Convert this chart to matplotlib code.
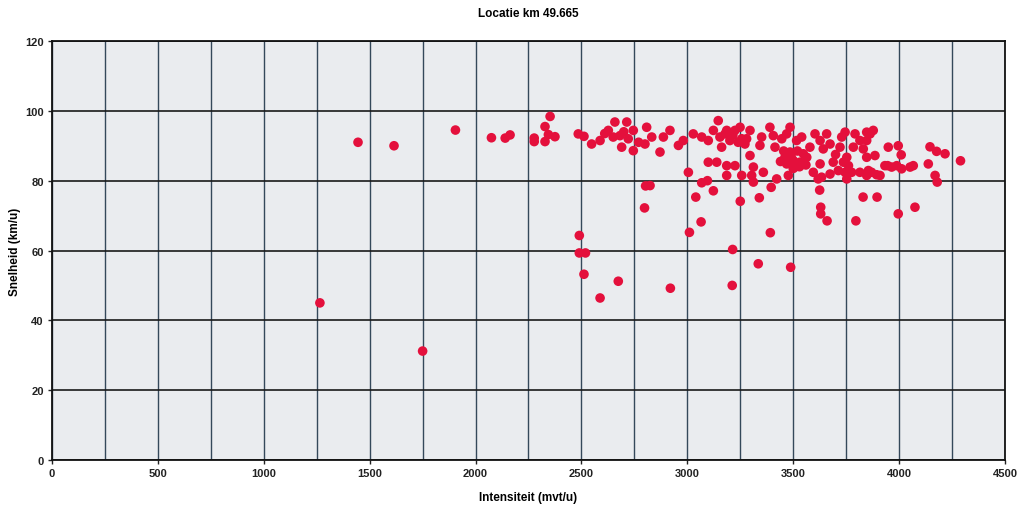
import matplotlib
matplotlib.use("Agg")
import matplotlib.pyplot as plt
from matplotlib.ticker import MultipleLocator

plt.rcParams['font.family'] = ['Liberation Sans', 'DejaVu Sans']

title = "Locatie km 49.665"
xlabel = "Intensiteit (mvt/u)"
ylabel = "Snelheid (km/u)"

intensiteit = [
    1265, 1445, 1615, 1750, 1905, 2075, 2140, 2163, 2277, 2277,
    2352, 2328, 2344, 2375, 2328, 2485, 2512, 2548, 2588, 2627,
    2658, 2650, 2682, 2690, 2714, 2721, 2745, 2745, 2808, 2800,
    2832, 2871, 2887, 2918, 2958, 2981, 3028, 3068, 3099, 3146,
    3123, 3154, 3162, 3186, 3099, 3139, 3186, 3005, 3068, 3095,
    3186, 2803, 2824, 3123, 2798, 3040, 3065, 3010, 2490, 2490,
    2519, 2512, 2674, 2588, 2920, 3214, 3212, 3250, 3335, 3392,
    3340, 3396, 3488, 3625, 3630, 3630, 3660, 3796, 3830, 3896,
    3996, 4075, 4170, 4180, 4290, 4138, 4146, 4177, 4217, 4052,
    3949, 3996, 4010, 3946, 3989, 3894, 3855, 3815, 3776, 3753,
    3689, 3737, 3618, 3178, 3201, 3225, 3249, 3257, 3272, 3296,
    3296, 3225, 3312, 3304, 3359, 3257, 3312, 3422, 3477, 3351,
    3343, 3390, 3406, 3414, 3446, 3469, 3485, 3485, 3461, 3469,
    3500, 3516, 3540, 3548, 3532, 3564, 3579, 3508, 3603, 3627,
    3658, 3674, 3642, 3627, 3595, 3634, 3674, 3713, 3721, 3729,
    3745, 3753, 3761, 3745, 3784, 3792, 3815, 3831, 3847, 3847,
    3847, 3878, 3863, 3847, 3886, 3933, 3965, 3870, 3910, 4012,
    4067, 3490, 3520, 3500, 3478, 3530, 3455, 3215, 3240, 3280,
    2610, 2700, 2770, 3700, 3560, 3440,
]

snelheid = [
    45.0, 91.0, 90.0, 31.2, 94.5, 92.3, 92.2, 93.1, 92.2, 91.2,
    98.4, 95.5, 93.2, 92.6, 91.2, 93.4, 92.7, 90.5, 91.5, 94.4,
    96.8, 92.5, 92.9, 89.6, 96.8, 92.0, 94.4, 88.6, 95.3, 90.5,
    92.5, 88.2, 92.5, 94.4, 90.1, 91.5, 93.4, 92.5, 91.5, 97.2,
    94.4, 92.5, 89.6, 94.4, 85.3, 85.3, 84.3, 82.4, 79.4, 80.0,
    81.5, 78.5, 78.6, 77.1, 72.2, 75.3, 68.2, 65.2, 64.3, 59.3,
    59.3, 53.2, 51.2, 46.4, 49.2, 60.3, 50.0, 74.1, 56.2, 65.1,
    75.1, 78.1, 55.2, 77.3, 72.4, 70.5, 68.5, 68.5, 75.3, 75.3,
    70.5, 72.4, 81.5, 79.6, 85.7, 84.8, 89.7, 88.4, 87.7, 83.9,
    89.6, 90.0, 87.4, 84.3, 84.3, 81.7, 82.9, 82.4, 82.4, 80.5,
    85.3, 85.3, 80.5, 93.4, 91.5, 94.4, 95.3, 92.0, 90.5, 94.4,
    87.2, 84.3, 83.9, 81.5, 82.4, 81.5, 79.6, 80.5, 81.5, 92.5,
    90.1, 95.3, 92.9, 89.6, 92.0, 93.4, 95.3, 88.2, 86.7, 84.8,
    85.8, 91.5, 92.5, 87.7, 85.3, 86.7, 89.6, 83.9, 93.4, 91.5,
    93.4, 90.5, 89.1, 84.8, 82.4, 81.0, 81.9, 82.9, 89.6, 92.5,
    93.9, 86.7, 84.3, 82.4, 89.6, 93.4, 91.5, 89.1, 93.9, 86.7,
    81.5, 94.4, 93.4, 91.5, 87.2, 84.3, 83.9, 82.4, 81.5, 83.4,
    84.3, 87.0, 88.5, 83.5, 86.0, 84.0, 88.5, 93.0, 91.0, 92.0,
    93.5, 94.0, 91.0, 87.5, 84.5, 85.5,
]

fig = plt.figure(figsize=(10.26, 5.10), dpi=100)
fig.patch.set_facecolor('white')
ax = fig.add_axes([0.0507, 0.0961, 0.9288, 0.8215])
ax.set_facecolor('#eaecef')

ax.set_xlim(0, 4500)
ax.set_ylim(0, 120)
ax.xaxis.set_major_locator(MultipleLocator(500))
ax.xaxis.set_minor_locator(MultipleLocator(250))
ax.yaxis.set_major_locator(MultipleLocator(20))

ax.grid(which='major', axis='y', color='#1a1a1a', linewidth=1.2)
ax.grid(which='both', axis='x', color='#34485a', linewidth=1.0)
ax.set_axisbelow(True)

ax.scatter(intensiteit, snelheid, s=48, color='#e4103c', edgecolors='none', zorder=3)

for sp in ax.spines.values():
    sp.set_color('#111111')
    sp.set_linewidth(1.3)

ax.tick_params(axis='both', which='major', labelsize=8, length=3, width=1, color='#222222', pad=3)
ax.tick_params(axis='x', which='minor', length=0)
for lbl in ax.get_xticklabels() + ax.get_yticklabels():
    lbl.set_fontweight('bold')
    lbl.set_color('#222222')

ax.set_title(title, fontsize=8.5, fontweight='bold', pad=18)
ax.set_xlabel(xlabel, fontsize=8.5, fontweight='bold', labelpad=9)
ax.set_ylabel(ylabel, fontsize=8.5, fontweight='bold', labelpad=3)

fig.savefig('out.png', dpi=100)
